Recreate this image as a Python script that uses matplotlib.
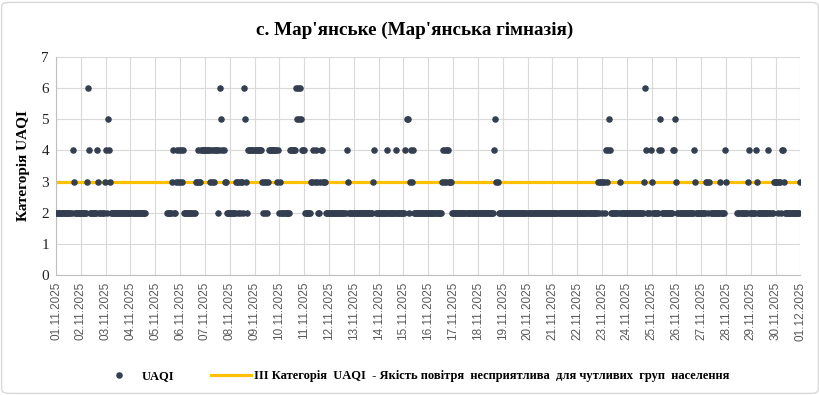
import numpy as np
import pandas as pd
import matplotlib
matplotlib.use("Agg")
import matplotlib.pyplot as plt
from matplotlib.lines import Line2D
from matplotlib.patches import FancyBboxPatch

title = "с. Мар'янське (Мар'янська гімназія)"
y_title = "Категорія UAQI"
series_label = "UAQI"
threshold = 3
threshold_label = "III Категорія  UAQI  - Якість повітря  несприятлива  для чутливих  груп  населення"

# погодинна категорія UAQI, один рядок = одна доба (24 год), '-' = немає даних
uaqi_by_day = [
    "222222222222222243222222",  # 01.11
    "222222364222222243222223",  # 02.11
    "425432222222222222222222",  # 03.11
    "222222222222222---------",  # 04.11
    "-----------2222234223434",  # 05.11
    "343422222222222334334444",  # 06.11
    "444443434344424654433222",  # 07.11
    "222222332323326532444444",  # 08.11
    "444444432323234444444434",  # 09.11
    "232222222244444465656544",  # 10.11
    "422222233434322344333222",  # 11.11
    "222222222222222224322222",  # 12.11
    "222222222222222222234222",  # 13.11
    "222222224222222224222222",  # 14.11
    "224552343422222222222222",  # 15.11
    "222222222222234343443332",  # 16.11
    "222222222222222222222222",  # 17.11
    "222222222222222245332222",  # 18.11
    "222222222222222222222222",  # 19.11
    "222222222222222222222222",  # 20.11
    "222222222222222222222222",  # 21.11
    "222222222222222222223233",  # 22.11
    "233243454222222223222222",  # 23.11
    "222222222222222223642224",  # 24.11
    "322222245422222222222445",  # 25.11
    "322222222222222224322222",  # 26.11
    "222223323222222222322224",  # 27.11
    "3----------2222222222342",  # 28.11
    "222224322222222224222233",  # 29.11
    "332332443222222222222222",  # 30.11
]
uaqi_last = 3  # 01.12.2025 00:00

days = pd.date_range("2025-11-01", "2025-12-01", freq="D")
day_labels = [d.strftime("%d.%m.%Y") for d in days]


def main():
    values = [np.nan if c == "-" else float(c) for row in uaqi_by_day for c in row]
    values.append(uaqi_last)
    x = np.arange(len(values)) / 24.0

    fig = plt.figure(figsize=(8.2, 3.95), dpi=100)
    ax = fig.add_axes([0.0683, 0.3038, 0.9079, 0.5519])

    ax.axhline(threshold, color="#ffc000", lw=2.3, zorder=2)
    ax.plot(x, values, "o", ms=3.7, color="#333f50", linestyle="none", zorder=3)

    ax.set_xlim(0, len(days) - 1)
    ax.set_ylim(0, 7)
    ax.set_xticks(range(len(days)))
    ax.set_xticklabels(day_labels, rotation=90, fontsize=8.5, color="#595959",
                       family="Liberation Sans")
    ax.set_yticks(range(8))
    ax.set_yticklabels([str(v) for v in range(8)], fontsize=11, color="#222222",
                       family="Liberation Serif")
    ax.tick_params(length=0, pad=5)
    ax.grid(True, color="#d9d9d9", lw=0.8)
    ax.set_axisbelow(True)
    for side in ["top", "right"]:
        ax.spines[side].set_visible(False)
    for side in ["left", "bottom"]:
        ax.spines[side].set_color("#bfbfbf")
        ax.spines[side].set_linewidth(0.8)

    ax.set_ylabel(y_title, family="Liberation Serif", fontweight="bold", fontsize=11,
                  labelpad=8)
    fig.text(0.506, 0.924, title, ha="center", va="center", family="Liberation Serif",
             fontweight="bold", fontsize=13.8)

    handles = [
        Line2D([], [], marker="o", ms=3.7, color="#333f50", linestyle="none"),
        Line2D([], [], color="#ffc000", lw=2.3),
    ]
    fig.legend(handles, [series_label, threshold_label], loc="center",
               bbox_to_anchor=(0.505, 0.048), ncol=2, frameon=False,
               prop=dict(family="Liberation Serif", weight="bold", size=9),
               columnspacing=3.0, handlelength=3.2, handletextpad=0.2)

    fig.patches.append(FancyBboxPatch((0.002, 0.004), 0.996, 0.99,
                                      boxstyle="round,pad=0,rounding_size=0.01",
                                      transform=fig.transFigure, fill=False,
                                      ec="#d9d9d9", lw=1))

    fig.savefig("out.png", dpi=100)


if __name__ == "__main__":
    main()
